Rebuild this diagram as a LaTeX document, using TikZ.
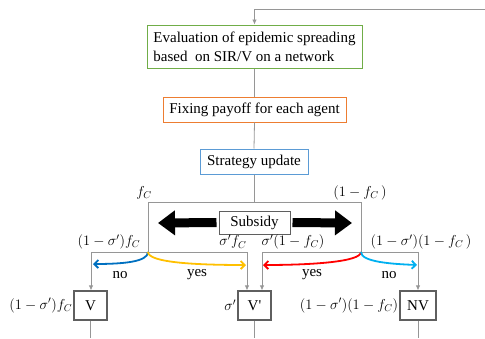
\documentclass[tikz,border=0pt]{standalone}
\usepackage{fontspec}
\setmainfont{Liberation Serif}
\usetikzlibrary{arrows.meta}

\definecolor{evalgreen}{RGB}{112,173,71}
\definecolor{payorange}{RGB}{237,125,49}
\definecolor{stratblue}{RGB}{91,155,213}
\definecolor{linegrey}{RGB}{150,150,150}
\definecolor{boxgrey}{RGB}{95,95,95}
\definecolor{noblue}{RGB}{0,112,192}
\definecolor{yesyellow}{RGB}{255,192,0}
\definecolor{yesred}{RGB}{255,0,0}
\definecolor{nocyan}{RGB}{0,176,240}

\tikzset{
  txt/.style={font=\fontsize{15}{19}\selectfont},
  flowbox/.style={draw, line width=1pt, inner sep=3pt, txt},
  statebox/.style={draw=boxgrey, line width=1.2pt, minimum height=29pt,
                   inner sep=0pt, txt},
  link/.style={draw=linegrey, line width=0.8pt},
  feed/.style={link, -{Latex[length=5pt,width=4.5pt]}},
  choice/.style={line width=1.8pt, -{Straight Barb[length=4pt,width=8pt]}},
  bigarrow/.style={line width=9pt, -{Triangle[length=17pt,width=24pt]}},
  prob/.style={font=\fontsize{14}{17}\selectfont, inner sep=1pt},
  ans/.style={txt, inner sep=0pt},
}

\begin{document}
\begin{tikzpicture}[x=1pt, y=-1pt]
  \useasboundingbox (0,0) rectangle (485,338);

  % process chain
  \node[flowbox, draw=evalgreen, align=left, minimum width=215pt, minimum height=43pt]
    (eval) at (254.5,46.5) {Evaluation of epidemic spreading\\based~ on SIR/V on a network};
  \node[flowbox, draw=payorange, minimum width=183pt, minimum height=25pt]
    (pay) at (254.5,109.5) {Fixing payoff for each agent};
  \node[flowbox, draw=stratblue, minimum width=108pt, minimum height=25pt]
    (strat) at (254,161.5) {Strategy update};
  \node[flowbox, draw=boxgrey, minimum width=71pt, minimum height=23pt]
    (sub) at (254.5,222.5) {Subsidy};

  % feedback loop into the epidemic stage
  \coordinate (loopR) at (485,9);
  \coordinate (loopL) at (254.5,9);
  \draw[feed] (loopR) -- (loopL) -- (eval.north);
  \draw[link] (eval.south) -- (pay.north);
  \draw[link] (pay.south) -- (strat.north);

  % split frame below the strategy update
  \coordinate (tj) at (254,202);
  \coordinate (cL) at (148,202);
  \coordinate (cR) at (361,202);
  \coordinate (bL) at (148,252);
  \coordinate (bR) at (361,252);
  \draw[link] (strat.south) -- (tj);
  \draw[link] (cL) -- (cR);
  \draw[link] (cL) -- (bL);
  \draw[link] (cR) -- (bR);

  % subsidy push arrows
  \coordinate (arrL) at (158,223);
  \coordinate (arrR) at (352,223);
  \draw[bigarrow, shorten <=2pt] (sub.west) -- (arrL);
  \draw[bigarrow, shorten <=2pt] (sub.east) -- (arrR);

  % final states
  \node[statebox, minimum width=33pt] (V)  at (90.5,305.5) {V};
  \node[statebox, minimum width=33pt] (Vp) at (254.5,305.5) {V\textquotesingle};
  \node[statebox, minimum width=36pt] (NV) at (418,305.5) {NV};

  % branch rails
  \coordinate (l1) at (91,252);
  \coordinate (l2) at (247,252);
  \coordinate (r1) at (262,252);
  \coordinate (r2) at (418,252);
  \draw[link] (l1) -- (l2);
  \draw[link] (r1) -- (r2);
  \draw[feed] (l1) -- (l1 |- V.north);
  \draw[feed] (l2) -- (l2 |- Vp.north);
  \draw[feed] (r1) -- (r1 |- Vp.north);
  \draw[feed] (r2) -- (r2 |- NV.north);

  % outputs leaving the states
  \coordinate (oV) at (90.5,338);
  \coordinate (oVp) at (254.5,338);
  \coordinate (oNV) at (418,338);
  \draw[link] (V.south) -- (oV);
  \draw[link] (Vp.south) -- (oVp);
  \draw[link] (NV.south) -- (oNV);

  % vaccination decisions
  \coordinate (tnoL) at (93,264);
  \coordinate (tyesL) at (246,265);
  \coordinate (tyesR) at (263,265);
  \coordinate (tnoR) at (417,265);
  \draw[choice, noblue]    (bL) .. controls (148,262) and (122,264) .. (tnoL);
  \draw[choice, yesyellow] (bL) .. controls (148,263) and (200,265) .. (tyesL);
  \draw[choice, yesred]    (bR) .. controls (361,262) and (310,265) .. (tyesR);
  \draw[choice, nocyan]    (bR) .. controls (361,262) and (392,264) .. (tnoR);

  \node[ans] (no1)  at (120,275) {no};
  \node[ans] (yes1) at (197,275) {yes};
  \node[ans] (yes2) at (312,275) {yes};
  \node[ans] (no2)  at (389,275) {no};

  % fractions
  \node[prob] (pfc)  at (144,193) {$f_C$};
  \node[prob] (pnfc) at (360,193) {$(1-f_C\,)$};
  \node[prob] (p1) at (109,242) {$(1-\sigma')f_C$};
  \node[prob] (p2) at (233,242) {$\sigma' f_C$};
  \node[prob] (p3) at (293,242) {$\sigma'(1-f_C)$};
  \node[prob] (p4) at (421,242) {$(1-\sigma')(1-f_C\,)$};

  \node[prob, anchor=east] (qV)  at (V.west)  {$(1-\sigma')f_C$};
  \node[prob, anchor=east] (qVp) at (Vp.west) {$\sigma'$};
  \node[prob, anchor=east] (qNV) at (NV.west) {$(1-\sigma')(1-f_C)$};
\end{tikzpicture}
\end{document}
